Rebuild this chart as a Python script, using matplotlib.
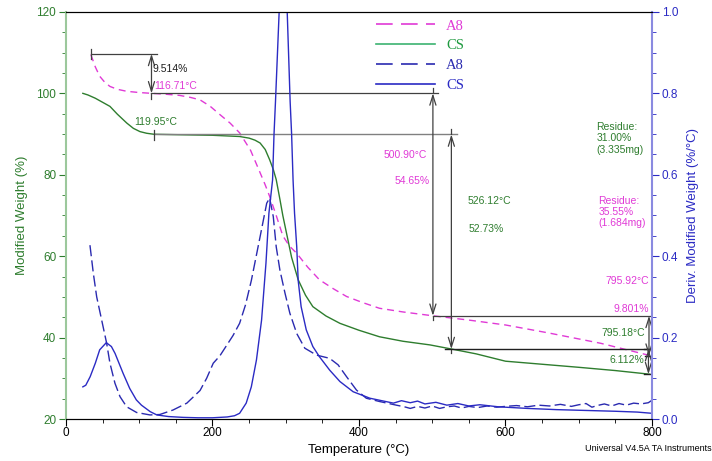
import numpy as np
import matplotlib.pyplot as plt

plt.rcParams['font.family'] = ['Liberation Sans', 'DejaVu Sans']

# ---- TGA curves : modified weight (%) ----
t_cs_tga = [23, 30, 40, 50, 60, 70, 83, 92, 101, 110, 120, 150, 200, 237, 250, 258, 265, 272,
            278, 283, 287, 292, 296, 301, 308, 317, 327, 337, 355, 374, 400, 428, 460, 497,
            526, 560, 600, 660, 700, 750, 797]
w_cs_tga = [100.0, 99.6, 98.8, 97.8, 96.8, 94.9, 92.7, 91.4, 90.6, 90.2, 89.95, 89.85, 89.7,
            89.4, 89.0, 88.5, 87.8, 86.2, 83.7, 81.3, 78.8, 74.0, 70.0, 65.7, 59.7, 54.2, 50.4,
            47.6, 45.3, 43.5, 41.8, 40.2, 39.1, 38.2, 37.2, 36.0, 34.2, 33.3, 32.7, 31.9, 31.0]

t_a8_tga = [34, 37, 40, 46, 53, 60, 70, 83, 100, 117, 135, 155, 170, 183, 197, 210, 224, 237,
            252, 265, 272, 278, 287, 296, 305, 315, 330, 346, 365, 383, 405, 428, 460, 501,
            550, 600, 660, 730, 797]
w_a8_tga = [109.5, 108.0, 106.5, 104.2, 102.7, 101.7, 101.0, 100.5, 100.2, 100.0, 99.8, 99.5,
            99.0, 98.4, 96.8, 94.8, 92.7, 90.3, 86.0, 80.5, 77.5, 74.7, 70.0, 65.0, 62.5, 60.7,
            57.3, 54.2, 52.0, 50.1, 48.6, 47.2, 46.3, 45.35, 44.3, 43.1, 41.1, 38.6, 35.6]

# ---- DTG curves : deriv. modified weight (%/degC) ----
t_cs_dtg = [23, 27, 33, 40, 46, 55, 62, 67, 78, 87, 96, 103, 115, 124, 140, 160, 180, 200, 220,
            230, 237, 246, 253, 260, 267, 273, 277, 282, 284, 286, 291, 296, 302, 306, 308, 310,
            312, 315, 317, 321, 328, 337, 346, 360, 374, 392, 415, 447, 458, 470, 480, 490, 505,
            520, 535, 550, 565, 590, 630, 670, 710, 750, 780, 800]
d_cs_dtg = [0.079, 0.083, 0.104, 0.137, 0.170, 0.1875, 0.178, 0.161, 0.112, 0.075, 0.047, 0.034,
            0.018, 0.010, 0.006, 0.004, 0.003, 0.003, 0.005, 0.008, 0.014, 0.039, 0.079, 0.145,
            0.243, 0.383, 0.505, 0.587, 0.70, 0.78, 1.0, 1.15, 1.0, 0.78, 0.70, 0.587, 0.506,
            0.423, 0.34, 0.276, 0.219, 0.178, 0.153, 0.12, 0.092, 0.067, 0.051, 0.039, 0.045,
            0.040, 0.044, 0.037, 0.041, 0.034, 0.038, 0.032, 0.035, 0.030, 0.026, 0.023, 0.021,
            0.019, 0.017, 0.014]

t_a8_dtg = [32.7, 37.3, 41.9, 48.7, 55.5, 60, 66.8, 73.7, 82.8, 96.4, 114.6, 128, 146, 165, 183,
            192, 201, 210, 219, 228, 237, 245, 253, 265, 274, 278, 283, 287, 292, 299, 305.6,
            315, 326, 342, 360, 371.5, 383, 396.6, 410, 428, 451, 462, 470, 480, 490, 500, 510,
            520, 530, 540, 550, 562, 575, 588, 600, 615, 630, 645, 660, 675, 690, 700, 710, 718,
            725, 735, 745, 755, 765, 775, 785, 795, 800]
d_a8_dtg = [0.427, 0.358, 0.30, 0.243, 0.186, 0.137, 0.088, 0.055, 0.030, 0.016, 0.010, 0.011,
            0.022, 0.039, 0.070, 0.100, 0.137, 0.155, 0.180, 0.205, 0.235, 0.280, 0.340, 0.448,
            0.530, 0.543, 0.497, 0.423, 0.366, 0.309, 0.260, 0.210, 0.174, 0.157, 0.149, 0.133,
            0.104, 0.071, 0.051, 0.043, 0.034, 0.030, 0.026, 0.031, 0.027, 0.032, 0.026, 0.030,
            0.032, 0.027, 0.031, 0.028, 0.032, 0.029, 0.031, 0.033, 0.030, 0.034, 0.032, 0.036,
            0.031, 0.035, 0.038, 0.029, 0.033, 0.037, 0.032, 0.038, 0.034, 0.039, 0.037, 0.040,
            0.046]

# ---- analysis results ----
a8_start_t, a8_start_w = 34, 109.5
a8_step_t, a8_step_w = 116.71, 100.0
cs_step_t, cs_step_w = 119.95, 89.9
a8_end_t, a8_end_w = 500.90, 45.35
cs_end_t, cs_end_w = 526.12, 37.17
a8_res_t, a8_res_w = 795.92, 35.55
cs_res_t, cs_res_w = 795.18, 31.0

green = '#2e7d2e'
magenta = '#e03ad6'
blue = '#2b2bc4'
navy = '#2a2ab0'
grey = '#404040'

fig = plt.figure(figsize=(7.12, 4.61), dpi=100)
ax1 = fig.add_axes([0.0927, 0.0911, 0.823, 0.883])
ax2 = ax1.twinx()

ax1.plot(t_cs_tga, w_cs_tga, color=green, lw=1.0)
ax1.plot(t_a8_tga, w_a8_tga, color=magenta, lw=1.0, dashes=(5, 3.5))
ax2.plot(t_a8_dtg, d_a8_dtg, color=navy, lw=1.0, dashes=(8, 3))
ax2.plot(t_cs_dtg, d_cs_dtg, color=blue, lw=1.0)

ax1.set_xlim(0, 800)
ax1.set_ylim(20, 120)
ax2.set_ylim(0, 1.0)

ax1.set_xticks(np.arange(0, 801, 200))
ax1.set_xticks(np.arange(0, 801, 50), minor=True)
ax1.set_yticks(np.arange(20, 121, 20))
ax1.set_yticks(np.arange(20, 121, 5), minor=True)
ax2.set_yticks(np.arange(0, 1.01, 0.2))
ax2.set_yticks(np.arange(0, 1.01, 0.05), minor=True)
ax2.set_yticklabels(['0.0', '0.2', '0.4', '0.6', '0.8', '1.0'])

ax1.tick_params(axis='x', which='major', length=5, labelsize=8.5, pad=1, direction='out')
ax1.tick_params(axis='x', which='minor', length=3, direction='out')
ax1.tick_params(axis='y', which='major', length=5, labelsize=8.5, pad=2, colors=green)
ax1.tick_params(axis='y', which='minor', length=3, colors=green)
ax2.tick_params(axis='y', which='major', length=5, labelsize=8.5, pad=2, colors=blue)
ax2.tick_params(axis='y', which='minor', length=3, colors=blue)

ax1.spines['right'].set_visible(False)
ax1.spines['left'].set_color('#9cc89c')
ax1.spines['left'].set_linewidth(1.5)
ax2.spines['left'].set_visible(False)
ax2.spines['right'].set_color('#8a8ae0')
ax2.spines['right'].set_linewidth(1.5)

ax1.set_xlabel('Temperature (°C)', fontsize=9.5, labelpad=3)
ax1.set_ylabel('Modified Weight (%)', fontsize=9.5, color=green, labelpad=6)
ax2.set_ylabel('Deriv. Modified Weight (%/°C)', fontsize=9.5, color=blue, labelpad=6)

# ---- step markers ----
lk = dict(color=grey, lw=0.9)
ak = dict(arrowstyle='<->,head_length=0.7,head_width=0.22', color=grey, lw=0.9,
          shrinkA=0, shrinkB=0)

ax1.plot([a8_start_t, 124], [109.7, 109.7], **lk)
ax1.plot([a8_start_t, a8_start_t], [108.5, 110.8], **lk)
ax1.annotate('', xy=(a8_step_t, a8_step_w), xytext=(a8_step_t, 109.7), arrowprops=ak)
ax1.plot([a8_step_t, a8_step_t], [98.5, 100.0], **lk)
ax1.plot([a8_step_t, 508], [a8_step_w, a8_step_w], **lk)

ax1.plot([cs_step_t, 534], [cs_step_w, cs_step_w], color='#808080', lw=1.0)
ax1.plot([cs_step_t, cs_step_t], [88.6, 91.0], **lk)

ax1.annotate('', xy=(a8_end_t, a8_end_w), xytext=(a8_end_t, a8_step_w), arrowprops=ak)
ax1.plot([a8_end_t, a8_end_t], [100.0, 101.3], **lk)
ax1.plot([a8_end_t, a8_end_t], [44.4, 45.35], **lk)
ax1.plot([a8_end_t, 800], [a8_end_w, a8_end_w], **lk)

ax1.annotate('', xy=(cs_end_t, cs_end_w), xytext=(cs_end_t, cs_step_w), arrowprops=ak)
ax1.plot([cs_end_t, cs_end_t], [89.9, 91.2], **lk)
ax1.plot([cs_end_t, cs_end_t], [36.2, 37.17], **lk)
ax1.plot([518, 800], [cs_end_w, cs_end_w], color='#202020', lw=1.0)

ax1.annotate('', xy=(a8_res_t, a8_res_w), xytext=(a8_res_t, a8_end_w), arrowprops=ak)
ax1.plot([a8_res_t - 6, a8_res_t + 6], [a8_res_w, a8_res_w], color='#202020', lw=1.0)
ax1.annotate('', xy=(cs_res_t, cs_res_w), xytext=(cs_res_t, cs_end_w), arrowprops=ak)
ax1.plot([cs_res_t - 6, cs_res_t + 6], [cs_res_w, cs_res_w], color='#202020', lw=1.0)
ax1.plot([cs_res_t - 6, cs_res_t + 6], [cs_end_w, cs_end_w], color='#202020', lw=1.0)

fs = 7.5
ax1.text(118.7, 106.1, '9.514%', fontsize=fs, color='#202020', va='center')
ax1.text(120.5, 101.9, '116.71°C', fontsize=fs, color=magenta, va='center')
ax1.text(92.8, 93.0, '119.95°C', fontsize=fs, color=green, va='center')
ax1.text(434, 84.9, '500.90°C', fontsize=fs, color=magenta, va='center')
ax1.text(448, 78.5, '54.65%', fontsize=fs, color=magenta, va='center')
ax1.text(548, 73.6, '526.12°C', fontsize=fs, color=green, va='center')
ax1.text(550, 66.7, '52.73%', fontsize=fs, color=green, va='center')
ax1.text(724, 92.9, 'Residue:\n31.00%\n(3.335mg)', fontsize=fs, color=green, va='top',
         linespacing=1.15)
ax1.text(727, 74.9, 'Residue:\n35.55%\n(1.684mg)', fontsize=fs, color=magenta, va='top',
         linespacing=1.15)
ax1.text(795.4, 54.0, '795.92°C', fontsize=fs, color=magenta, va='center', ha='right')
ax1.text(795.4, 47.1, '9.801%', fontsize=fs, color=magenta, va='center', ha='right')
ax1.text(790.9, 41.1, '795.18°C', fontsize=fs, color=green, va='center', ha='right')
ax1.text(790.0, 34.5, '6.112%', fontsize=fs, color=green, va='center', ha='right')

# ---- legend ----
h1, = ax1.plot([], [], color=magenta, lw=1.2, dashes=(10, 5))
h2, = ax1.plot([], [], color='#3cb371', lw=1.2)
h3, = ax1.plot([], [], color=navy, lw=1.2, dashes=(10, 5))
h4, = ax1.plot([], [], color=blue, lw=1.2)
leg = ax2.legend([h1, h2, h3, h4], ['A8', 'CS', 'A8', 'CS'], loc='upper left',
                 bbox_to_anchor=(369 / 712, 1 - 12 / 461), bbox_transform=fig.transFigure,
                 frameon=False, borderpad=0, handlelength=4.0, handletextpad=0.8,
                 labelspacing=0.45, prop={'family': 'Liberation Serif', 'size': 10.5},
                 labelcolor=[magenta, '#1f9a40', navy, blue])

fig.text(585 / 712, 1 - 448 / 461, 'Universal V4.5A TA Instruments', fontsize=6.5,
         va='center', ha='left')

fig.savefig('out.png', dpi=100)
